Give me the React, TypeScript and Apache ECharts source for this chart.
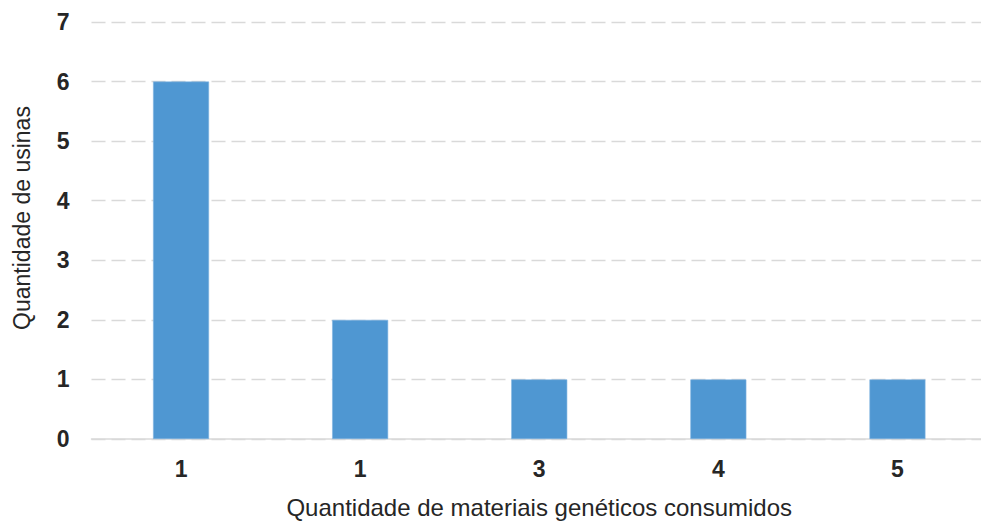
import React, { useEffect, useRef } from "react";
import * as echarts from "echarts";

const categories = ["1", "1", "3", "4", "5"];
const usinas = [6, 2, 1, 1, 1];
const yTicks = { min: 0, max: 7, interval: 1 };
const xTitle = "Quantidade de materiais genéticos consumidos";
const yTitle = "Quantidade de usinas";

const FONT = "'Liberation Sans', Arial, sans-serif";
const TEXT = "#262626";

export default function App() {
  const ref = useRef<HTMLDivElement>(null);

  useEffect(() => {
    document.body.style.margin = "0";
    if (!ref.current) return;
    const chart = echarts.init(ref.current, undefined, { renderer: "svg" });
    chart.setOption({
      animation: false,
      backgroundColor: "#ffffff",
      grid: {
        left: 91.5,
        right: -6,
        top: 22,
        bottom: 82,
        containLabel: false,
        outerBoundsMode: "none",
      },
      graphic: [
        {
          type: "text",
          x: 21.5,
          y: 218,
          rotation: Math.PI / 2,
          style: {
            text: yTitle,
            fontFamily: FONT,
            fontSize: 23,
            fill: TEXT,
            textAlign: "center",
            textVerticalAlign: "middle",
          },
        },
      ],
      xAxis: {
        type: "category",
        data: categories,
        name: xTitle,
        nameLocation: "middle",
        nameGap: 56,
        nameTextStyle: { fontFamily: FONT, fontSize: 24, color: TEXT },
        axisLine: { show: true, lineStyle: { color: "#d9d9d9", width: 1.5 } },
        axisTick: { show: false },
        axisLabel: {
          fontFamily: FONT,
          fontSize: 23,
          fontWeight: "bold",
          color: TEXT,
          margin: 18,
        },
      },
      yAxis: {
        type: "value",
        min: yTicks.min,
        max: yTicks.max,
        interval: yTicks.interval,
        axisLine: { show: false },
        axisTick: { show: false },
        axisLabel: {
          fontFamily: FONT,
          fontSize: 23,
          fontWeight: "bold",
          color: TEXT,
          margin: 22,
        },
        splitLine: {
          show: true,
          lineStyle: { color: "#d9d9d9", width: 1.3, type: [14, 6] },
        },
      },
      series: [
        {
          type: "bar",
          data: usinas,
          barWidth: 56,
          itemStyle: { color: "#4f97d2", borderColor: "#7fb3e0", borderWidth: 0.6 },
        },
      ],
    });
    return () => chart.dispose();
  }, []);

  return <div ref={ref} style={{ width: 981, height: 521 }} />;
}
